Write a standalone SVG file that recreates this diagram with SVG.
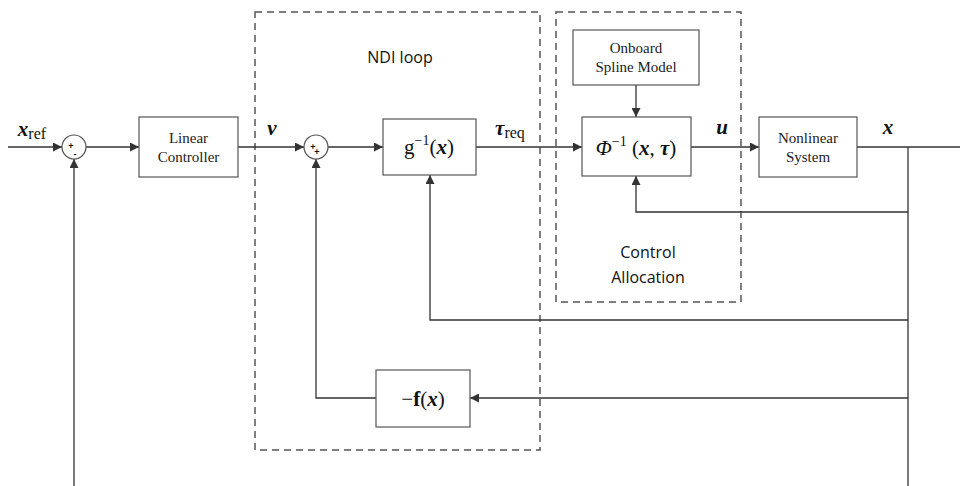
<svg xmlns="http://www.w3.org/2000/svg" width="960" height="486" viewBox="0 0 960 486">
<defs>
<marker id="ah" viewBox="0 0 10 10" refX="10" refY="5" markerWidth="9" markerHeight="9" markerUnits="userSpaceOnUse" orient="auto"><path d="M0,0 L10,5 L0,10 z" fill="#333"/></marker>
<style>
.blk{fill:#fff;stroke:#555;stroke-width:1.2}
.dash{fill:none;stroke:#555;stroke-width:1.5;stroke-dasharray:7,5}
.ln{fill:none;stroke:#333;stroke-width:1.3}
.ser{font-family:'Liberation Serif','DejaVu Serif','Times New Roman',serif;font-size:15px;fill:#222;text-anchor:middle}
.math{font-family:'Liberation Serif','DejaVu Serif','Times New Roman',serif;fill:#111;text-anchor:middle}
.sans{font-family:'Open Sans','Liberation Sans',sans-serif;font-size:16px;fill:#111;text-anchor:middle}
.sm{font-family:'Liberation Sans',sans-serif;font-size:9px;font-weight:bold;fill:#111;text-anchor:middle}
</style>
</defs>
<rect width="960" height="486" fill="#fff"/>
<g id="ndi-loop"><rect class="dash" x="255" y="12" width="285" height="438"/><text class="sans" x="400" y="63">NDI loop</text></g>
<g id="control-allocation"><rect class="dash" x="556" y="12" width="185" height="290"/><text class="sans" x="648" y="258">Control</text><text class="sans" x="648" y="283">Allocation</text></g>
<g id="connectors">
<path class="ln" d="M8,147 H62" marker-end="url(#ah)"/>
<path class="ln" d="M86,147 H139" marker-end="url(#ah)"/>
<path class="ln" d="M238,147 H304" marker-end="url(#ah)"/>
<path class="ln" d="M328,147 H383" marker-end="url(#ah)"/>
<path class="ln" d="M476,147 H582" marker-end="url(#ah)"/>
<path class="ln" d="M691,147 H759" marker-end="url(#ah)"/>
<path class="ln" d="M857,147 H960"/>
<path class="ln" d="M908,147 V486"/>
<path class="ln" d="M636,85 V117" marker-end="url(#ah)"/>
<path class="ln" d="M908,212 H636 V176" marker-end="url(#ah)"/>
<path class="ln" d="M908,320 H430 V175" marker-end="url(#ah)"/>
<path class="ln" d="M908,398 H470" marker-end="url(#ah)"/>
<path class="ln" d="M376,398 H316 V159" marker-end="url(#ah)"/>
<path class="ln" d="M74,486 V159" marker-end="url(#ah)"/>
</g>
<g id="sum1"><circle class="blk" cx="74" cy="147" r="12"/><text class="sm" x="71" y="149">+</text><text class="sm" x="75" y="157">-</text></g>
<g id="linear-controller"><rect class="blk" x="139" y="117" width="99" height="60"/><text class="ser" x="188.5" y="143">Linear</text><text class="ser" x="188.5" y="162">Controller</text></g>
<g id="sum2"><circle class="blk" cx="316" cy="147" r="12"/><text class="sm" x="313" y="150">+</text><text class="sm" x="317" y="155">+</text></g>
<g id="g-inverse"><rect class="blk" x="383" y="119" width="93" height="56"/><text class="math" x="429" y="154" font-size="21"><tspan>g</tspan><tspan font-size="14" dy="-9">−1</tspan><tspan dy="9">(</tspan><tspan font-style="italic" font-weight="bold">x</tspan><tspan>)</tspan></text></g>
<g id="onboard-spline-model"><rect class="blk" x="573" y="30" width="126" height="55"/><text class="ser" x="636" y="53">Onboard</text><text class="ser" x="636" y="72">Spline Model</text></g>
<g id="phi-inverse"><rect class="blk" x="582" y="117" width="109" height="59"/><text class="math" x="636" y="155" font-size="21"><tspan font-style="italic">Φ</tspan><tspan font-size="14" dy="-9">−1</tspan><tspan dy="9"> (</tspan><tspan font-style="italic" font-weight="bold">x</tspan><tspan>, </tspan><tspan font-style="italic" font-weight="bold">τ</tspan><tspan>)</tspan></text></g>
<g id="nonlinear-system"><rect class="blk" x="759" y="117" width="98" height="60"/><text class="ser" x="808" y="143">Nonlinear</text><text class="ser" x="808" y="162">System</text></g>
<g id="f-block"><rect class="blk" x="376" y="370" width="94" height="57"/><text class="math" x="423" y="406" font-size="21"><tspan>−</tspan><tspan font-weight="bold">f</tspan><tspan>(</tspan><tspan font-style="italic" font-weight="bold">x</tspan><tspan>)</tspan></text></g>
<g id="labels">
<text class="math" x="32" y="136" font-size="21"><tspan font-style="italic" font-weight="bold">x</tspan><tspan font-size="16" dy="3">ref</tspan></text>
<text class="math" x="272" y="135" font-size="21" font-style="italic" font-weight="bold">ν</text>
<text class="math" x="510" y="135" font-size="21"><tspan font-style="italic" font-weight="bold">τ</tspan><tspan font-size="16" dy="3">req</tspan></text>
<text class="math" x="722" y="134" font-size="21" font-style="italic" font-weight="bold">u</text>
<text class="math" x="888" y="134" font-size="21" font-style="italic" font-weight="bold">x</text>
</g>
</svg>
